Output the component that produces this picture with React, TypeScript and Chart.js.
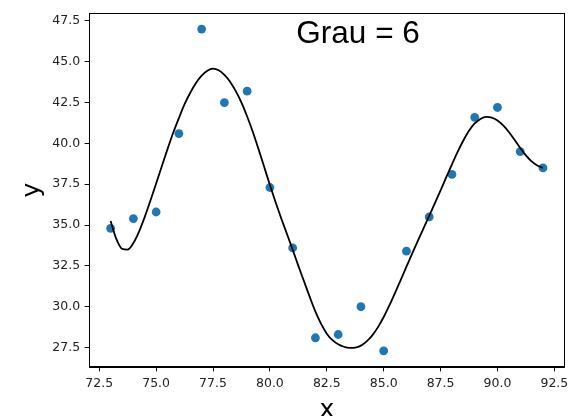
import React, { useEffect, useRef } from "react";
import { Chart, registerables } from "chart.js";

Chart.register(...registerables);

const pointX = [73, 74, 75, 76, 77, 78, 79, 80, 81, 82, 83, 84, 85, 86, 87, 88, 89, 90, 91, 92];
const pointY = [34.8, 35.4, 35.8, 40.6, 47.0, 42.5, 43.2, 37.3, 33.6, 28.1, 28.3, 30.0, 27.3, 33.4, 35.5, 38.1, 41.6, 42.2, 39.5, 38.5];

const fitX = [
  73.0, 73.25, 73.5, 73.75, 74.0, 74.25, 74.5, 74.75, 75.0, 75.25, 75.5, 75.75, 76.0, 76.25, 76.5, 76.75,
  77.0, 77.25, 77.5, 77.75, 78.0, 78.25, 78.5, 78.75, 79.0, 79.25, 79.5, 79.75, 80.0, 80.25, 80.5, 80.75,
  81.0, 81.25, 81.5, 81.75, 82.0, 82.25, 82.5, 82.75, 83.0, 83.25, 83.5, 83.75, 84.0, 84.25, 84.5, 84.75,
  85.0, 85.25, 85.5, 85.75, 86.0, 86.25, 86.5, 86.75, 87.0, 87.25, 87.5, 87.75, 88.0, 88.25, 88.5, 88.75,
  89.0, 89.25, 89.5, 89.75, 90.0, 90.25, 90.5, 90.75, 91.0, 91.25, 91.5, 91.75, 92.0,
];
const fitY = [
  35.25, 34.15, 33.55, 33.5, 33.9, 34.6, 35.5, 36.5, 37.55, 38.6, 39.65, 40.65, 41.55, 42.4, 43.1, 43.7,
  44.15, 44.45, 44.58, 44.48, 44.2, 43.78, 43.2, 42.5, 41.65, 40.7, 39.65, 38.55, 37.45, 36.4, 35.4, 34.45,
  33.5, 32.5, 31.55, 30.6, 29.7, 28.95, 28.35, 27.95, 27.7, 27.55, 27.48, 27.5, 27.62, 27.88, 28.25, 28.75,
  29.37, 30.08, 30.85, 31.65, 32.45, 33.25, 34.03, 34.8, 35.57, 36.35, 37.13, 37.93, 38.72, 39.48, 40.18, 40.78,
  41.22, 41.5, 41.62, 41.58, 41.4, 41.1, 40.7, 40.22, 39.72, 39.27, 38.9, 38.65, 38.5,
];

const xTicks = [72.5, 75.0, 77.5, 80.0, 82.5, 85.0, 87.5, 90.0, 92.5];
const yTicks = [27.5, 30.0, 32.5, 35.0, 37.5, 40.0, 42.5, 45.0, 47.5];
const xRange = [72.05, 92.95];
const yRange = [26.31, 47.985];
const titleText = "Grau = 6";
const xLabel = "x";
const yLabel = "y";

const framePlugin = {
  id: "frameAndTitle",
  afterDatasetsDraw(chart: any) {
    const { ctx, chartArea } = chart;
    ctx.save();
    ctx.strokeStyle = "#000";
    ctx.lineWidth = 1;
    ctx.strokeRect(
      Math.round(chartArea.left) + 0.5,
      Math.round(chartArea.top) + 0.5,
      Math.round(chartArea.right - chartArea.left) - 1,
      Math.round(chartArea.bottom - chartArea.top) - 1
    );
    ctx.fillStyle = "#000";
    ctx.font = '31.5px "Liberation Sans", Arial, sans-serif';
    ctx.textAlign = "left";
    ctx.textBaseline = "alphabetic";
    const w = chartArea.right - chartArea.left;
    ctx.fillText(titleText, chartArea.left + 0.436 * w, chartArea.top + 30);
    ctx.restore();
  },
};

export default function App() {
  const canvasRef = useRef<HTMLCanvasElement | null>(null);

  useEffect(() => {
    const canvas = canvasRef.current;
    if (!canvas) return;
    const tickFont = { family: '"DejaVu Sans", sans-serif', size: 12.5 };
    const chart = new Chart(canvas, {
      type: "scatter",
      data: {
        datasets: [
          {
            label: "fit",
            data: fitX.map((x, i) => ({ x, y: fitY[i] })),
            showLine: true,
            borderColor: "#000000",
            borderWidth: 1.8,
            pointRadius: 0,
            cubicInterpolationMode: "monotone",
            order: 1,
          } as any,
          {
            label: "dados",
            data: pointX.map((x, i) => ({ x, y: pointY[i] })),
            backgroundColor: "#1f77b4",
            borderColor: "#1f77b4",
            borderWidth: 0,
            pointRadius: 4.4,
            order: 2,
          },
        ],
      },
      options: {
        responsive: false,
        animation: false,
        layout: { padding: { top: 13, right: 3, left: 0, bottom: 0 } },
        plugins: {
          legend: { display: false },
          tooltip: { enabled: false },
          title: { display: false },
        },
        scales: {
          x: {
            type: "linear",
            min: xRange[0],
            max: xRange[1],
            afterBuildTicks: (scale: any) => {
              scale.ticks = xTicks.map((v) => ({ value: v }));
            },
            afterFit: (scale: any) => {
              scale.height = 49;
              scale.paddingLeft = 0;
              scale.paddingRight = 0;
            },
            grid: {
              display: true,
              drawOnChartArea: false,
              drawTicks: true,
              tickLength: 4.4,
              color: "#000",
              lineWidth: 1,
            },
            border: { display: true, color: "#000", width: 1 },
            ticks: {
              font: tickFont,
              color: "#222",
              padding: 4.4,
              maxRotation: 0,
              autoSkip: false,
              callback: (v: any) => Number(v).toFixed(1),
            },
            title: {
              display: true,
              text: xLabel,
              color: "#000",
              font: { family: '"DejaVu Sans", sans-serif', size: 25, lineHeight: 0.48 },
              padding: { top: 0, bottom: 0 },
            },
          },
          y: {
            type: "linear",
            min: yRange[0],
            max: yRange[1],
            afterBuildTicks: (scale: any) => {
              scale.ticks = yTicks.map((v) => ({ value: v }));
            },
            afterFit: (scale: any) => {
              scale.width = 89;
              scale.paddingTop = 0;
              scale.paddingBottom = 0;
            },
            grid: {
              display: true,
              drawOnChartArea: false,
              drawTicks: true,
              tickLength: 4.4,
              color: "#000",
              lineWidth: 1,
            },
            border: { display: true, color: "#000", width: 1 },
            ticks: {
              font: tickFont,
              color: "#222",
              padding: 4.4,
              autoSkip: false,
              callback: (v: any) => Number(v).toFixed(1),
            },
            title: {
              display: true,
              text: yLabel,
              color: "#000",
              font: { family: '"DejaVu Sans", sans-serif', size: 25, lineHeight: 0.8 },
              padding: { top: 22, bottom: 0 },
            },
          },
        },
      },
      plugins: [framePlugin],
    });
    return () => chart.destroy();
  }, []);

  return (
    <div style={{ position: "fixed", left: 0, top: 0, width: 569, height: 416, background: "#fff" }}>
      <canvas ref={canvasRef} width={569} height={416} style={{ display: "block", width: 569, height: 416 }} />
    </div>
  );
}
